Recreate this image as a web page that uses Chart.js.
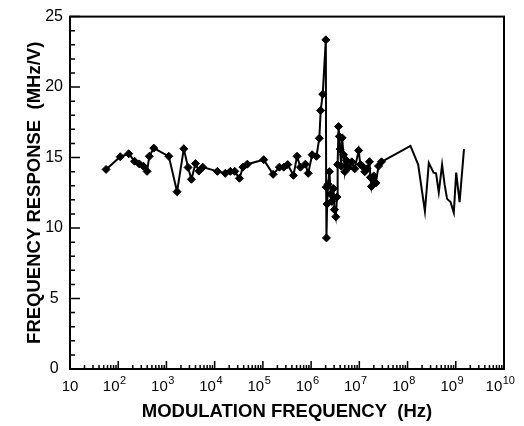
<!DOCTYPE html>
<html>
<head>
<meta charset="utf-8">
<script src="https://cdn.jsdelivr.net/npm/chart.js@4.4.1/dist/chart.umd.min.js"></script>
<style>
  html, body { margin: 0; padding: 0; background: #fff; }
</style>
</head>
<body>
<canvas id="responseChart" width="524" height="426"></canvas>
<script>
// Measured points (with diamond markers), Hz vs MHz/V
const markedFreq = [56, 110, 165, 218, 273, 333, 396, 441, 546, 1120, 1660, 2290, 2810, 3300, 4000, 4700, 5650,
    11400, 16600, 21200, 26100, 32600, 38600, 47600, 104000, 163000, 220000, 271000, 328000, 430000, 511000,
    600000, 760000, 870000, 1050000, 1290000, 1480000, 1580000, 1740000, 2020000, 2050000, 2080000, 2150000,
    2250000, 2400000, 2550000, 2700000, 2900000, 3050000, 3250000, 3450000, 3550000, 3700000, 3850000, 4000000,
    4200000, 4400000, 4700000, 5000000, 5400000, 6000000, 7000000, 8000000, 9700000, 10500000, 11500000,
    13000000, 14500000, 16200000, 17000000, 17800000, 19000000, 20000000, 22000000, 25000000, 28800000];
const markedResp = [14.16, 15.06, 15.27, 14.74, 14.55, 14.39, 14.02, 15.09, 15.67, 15.09, 12.58, 15.62, 14.3, 13.46,
    14.57, 14.04, 14.32, 14.02, 13.88, 14.02, 14.02, 13.53, 14.32, 14.53, 14.85, 13.81, 14.32, 14.32, 14.5, 13.74,
    15.09, 14.32, 14.53, 13.88, 15.2, 15.09, 16.37, 18.34, 19.5, 23.35, 12.9, 9.3, 11.7, 13.1, 14.0, 12.4, 11.9,
    12.8, 11.3, 10.8, 12.2, 14.5, 17.2, 16.5, 15.6, 14.4, 16.4, 15.2, 14.0, 14.8, 14.3, 14.7, 14.2, 15.5, 14.5,
    14.4, 14.0, 14.2, 14.7, 13.6, 12.95, 13.5, 13.7, 13.2, 14.4, 14.7];

// High-frequency trace (line only)
const traceFreq = [28800000, 115000000, 166000000, 229000000, 276000000, 347000000, 390000000, 444000000,
    520000000, 585000000, 660000000, 780000000, 910000000, 1020000000, 1200000000, 1480000000];
const traceResp = [14.7, 15.83, 14.5, 11.19, 14.62, 13.93, 13.88, 12.53, 14.5, 13.11, 12.07, 11.84, 11.09,
    13.93, 11.84, 15.6];

// Axis labels
const xDecades = [1, 2, 3, 4, 5, 6, 7, 8, 9, 10];
const yMinorStep = 1;
const yMajorStep = 5;

const FONT = "'Liberation Sans', Arial, Helvetica, sans-serif";

const toPoints = (xs, ys) => xs.map((x, i) => ({ x: x, y: ys[i] }));

// inward ticks, box frame and 10^n labels
const frameAndTicks = {
    id: 'frameAndTicks',
    afterDraw(chart) {
        const ctx = chart.ctx;
        const area = chart.chartArea;
        const xs = chart.scales.x;
        const ys = chart.scales.y;
        ctx.save();
        ctx.strokeStyle = '#000';
        ctx.lineWidth = 2;
        ctx.strokeRect(area.left, area.top, area.right - area.left, area.bottom - area.top);

        ctx.lineWidth = 1.5;
        ctx.beginPath();
        for (let v = ys.min; v <= ys.max; v += yMinorStep) {
            const py = ys.getPixelForValue(v);
            const len = v % yMajorStep === 0 ? 10 : 5;
            ctx.moveTo(area.left, py);
            ctx.lineTo(area.left + len, py);
        }
        xDecades.forEach(e => {
            for (let m = 1; m <= 9; m++) {
                if (e === 10 && m > 1) break;
                const px = xs.getPixelForValue(m * Math.pow(10, e));
                const len = m === 1 ? 8 : 4;
                ctx.moveTo(px, area.bottom);
                ctx.lineTo(px, area.bottom - len);
            }
        });
        ctx.stroke();

        ctx.fillStyle = '#000';
        ctx.textBaseline = 'alphabetic';
        ctx.textAlign = 'left';
        xDecades.forEach(e => {
            const px = xs.getPixelForValue(Math.pow(10, e));
            const base = '10';
            ctx.font = '15px ' + FONT;
            const wBase = ctx.measureText(base).width;
            if (e === 1) {
                ctx.fillText(base, px - wBase / 2, area.bottom + 22);
                return;
            }
            const sup = String(e);
            ctx.font = '11px ' + FONT;
            const wSup = ctx.measureText(sup).width;
            const startX = px - 4 - (wBase + wSup) / 2;
            ctx.font = '15px ' + FONT;
            ctx.fillText(base, startX, area.bottom + 22);
            ctx.font = '11px ' + FONT;
            ctx.fillText(sup, startX + wBase + 0.5, area.bottom + 15);
        });
        ctx.restore();
    }
};

const ctx = document.getElementById('responseChart').getContext('2d');
const responseChart = new Chart(ctx, {
    type: 'scatter',
    data: {
        datasets: [{
            label: 'Measured',
            data: toPoints(markedFreq, markedResp),
            showLine: true,
            borderColor: '#000',
            borderWidth: 2,
            pointStyle: 'rectRot',
            pointRadius: 4,
            pointBorderWidth: 1,
            pointBackgroundColor: '#000',
            pointBorderColor: '#000'
        }, {
            label: 'Trace',
            data: toPoints(traceFreq, traceResp),
            showLine: true,
            borderColor: '#000',
            borderWidth: 2,
            pointRadius: 0
        }]
    },
    options: {
        responsive: false,
        animation: false,
        devicePixelRatio: 1,
        layout: { padding: { top: 10, right: 20, left: 0, bottom: 0 } },
        plugins: {
            legend: { display: false },
            tooltip: { enabled: false }
        },
        scales: {
            x: {
                type: 'logarithmic',
                min: 10,
                max: 1e10,
                grid: { display: false, drawTicks: false },
                border: { display: false },
                ticks: { display: false },
                title: {
                    display: true,
                    text: 'MODULATION FREQUENCY  (Hz)',
                    color: '#000',
                    font: { family: FONT, size: 18.5, weight: 'bold' },
                    padding: { top: 0, bottom: 3 }
                },
                afterFit(scale) { scale.height = 57; }
            },
            y: {
                min: 0,
                max: 25,
                grid: { display: false, drawTicks: false },
                border: { display: false },
                ticks: {
                    stepSize: yMajorStep,
                    color: '#000',
                    padding: 7,
                    crossAlign: 'center',
                    font: { family: FONT, size: 16 }
                },
                title: {
                    display: true,
                    text: 'FREQUENCY RESPONSE  (MHz/V)',
                    color: '#000',
                    font: { family: FONT, size: 18.5, weight: 'bold' },
                    padding: { top: 24, bottom: 0 }
                },
                afterFit(scale) { scale.width = 70; }
            }
        }
    },
    plugins: [frameAndTicks]
});
</script>
</body>
</html>
